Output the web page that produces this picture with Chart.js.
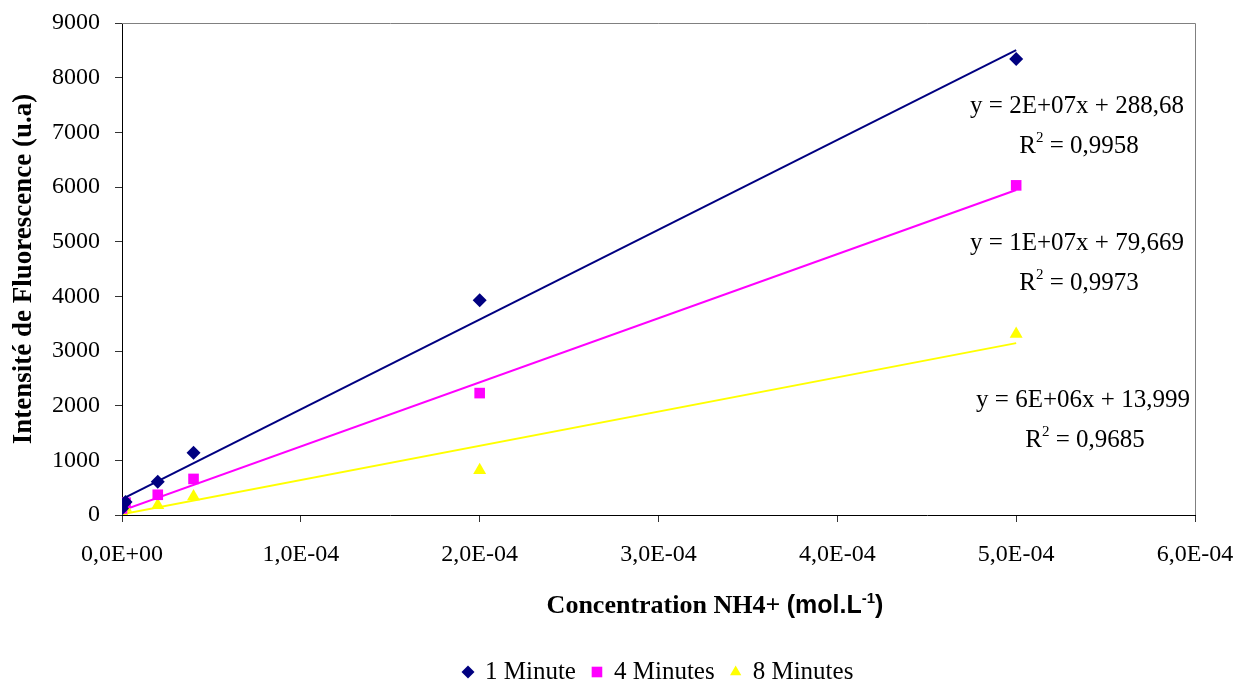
<!DOCTYPE html>
<html>
<head>
<meta charset="utf-8">
<script src="https://cdn.jsdelivr.net/npm/chart.js@4/dist/chart.umd.min.js"></script>
<style>
  html, body { margin: 0; padding: 0; background: #fff; }
  #wrap { width: 1239px; height: 684px; }
</style>
</head>
<body>
<div id="wrap"><canvas id="chart"></canvas></div>
<script>
// Data
const conc = [0, 2e-6, 2e-5, 4e-5, 2e-4, 5e-4];
const min1 = [120, 240, 610, 1140, 3930, 8340];
const min4 = [120, 225, 370, 660, 2230, 6030];
const min8 = [60, 130, 180, 340, 820, 3310];

const seriesNames = ["1 Minute", "4 Minutes", "8 Minutes"];
const seriesColors = ["#000080", "#FF00FF", "#FFFF00"];
const seriesShapes = ["rectRot", "rect", "triangle"];

// Trend lines (slope estimated from the drawn line, intercept from the label)
const slopes = [1.643e7, 1.173e7, 6.26e6];
const intercepts = [288.68, 79.669, 13.999];
const trendEnd = 5e-4;
const equations = ["y = 2E+07x + 288,68", "y = 1E+07x + 79,669", "y = 6E+06x + 13,999"];
const r2Values = ["0,9958", "0,9973", "0,9685"];

const serif = "'Liberation Serif', 'Times New Roman', serif";
const sans = "'Liberation Sans', Arial, sans-serif";

function toPoints(ys) {
  return ys.map((y, i) => ({ x: conc[i], y: y }));
}

function sciLabel(v) {
  let s = Number(v).toExponential(1);        // e.g. "1.0e-4"
  let [m, e] = s.split("e");
  let sign = e[0] === "-" ? "-" : "+";
  let digits = e.replace(/[+-]/, "").padStart(2, "0");
  return m.replace(".", ",") + "E" + sign + digits;
}

const datasets = [];
[min1, min4, min8].forEach((ys, i) => {
  datasets.push({
    label: seriesNames[i],
    data: toPoints(ys),
    showLine: false,
    pointStyle: seriesShapes[i],
    pointRadius: i === 0 ? 7 : 7.5,
    backgroundColor: seriesColors[i],
    borderColor: seriesColors[i],
    borderWidth: 0,
    order: 1
  });
});
slopes.forEach((m, i) => {
  datasets.push({
    label: "trend" + i,
    type: "line",
    data: [{ x: 0, y: intercepts[i] }, { x: trendEnd, y: m * trendEnd + intercepts[i] }],
    borderColor: seriesColors[i],
    borderWidth: 2,
    pointRadius: 0,
    fill: false,
    order: 2
  });
});

// Plot border, x title with mixed fonts, legend and the trendline labels
const extras = {
  id: "extras",
  afterDraw(chart) {
    const ctx = chart.ctx;
    const a = chart.chartArea;
    ctx.save();
    ctx.strokeStyle = "#808080";
    ctx.lineWidth = 1;
    ctx.beginPath();
    ctx.moveTo(a.left, a.top + 0.5);
    ctx.lineTo(a.right + 0.5, a.top + 0.5);
    ctx.lineTo(a.right + 0.5, a.bottom);
    ctx.stroke();

    // x axis title
    ctx.fillStyle = "#000";
    ctx.textBaseline = "alphabetic";
    ctx.textAlign = "left";
    const parts = [
      { t: "Concentration NH4+ ", f: "bold 26px " + serif, dy: 0 },
      { t: "(mol.L", f: "bold 25px " + sans, dy: 0 },
      { t: "-1", f: "bold 15px " + sans, dy: -10 },
      { t: ")", f: "bold 25px " + sans, dy: 0 }
    ];
    let total = 0;
    parts.forEach(p => { ctx.font = p.f; p.w = ctx.measureText(p.t).width; total += p.w; });
    let x = 715 - total / 2;
    const base = 613;
    parts.forEach(p => { ctx.font = p.f; ctx.fillText(p.t, x, base + p.dy); x += p.w; });

    // legend
    ctx.font = "25px " + serif;
    ctx.textBaseline = "middle";
    let lx = 468;
    const ly = 672;
    seriesNames.forEach((name, i) => {
      ctx.fillStyle = seriesColors[i];
      Chart.helpers.drawPoint(ctx, {
        pointStyle: seriesShapes[i],
        radius: i === 1 ? 7.5 : 6.5,
        rotation: 0,
        borderWidth: 0
      }, lx, ly);
      ctx.fillStyle = "#000";
      ctx.fillText(name, lx + 17, ly);
      lx += 17 + ctx.measureText(name).width + 21;
    });
    ctx.textBaseline = "alphabetic";

    // trendline labels
    const eqX = [1077, 1077, 1083];
    const eqY = [113, 250, 407];
    equations.forEach((eq, i) => {
      ctx.font = "25px " + serif;
      ctx.textAlign = "center";
      ctx.fillText(eq, eqX[i], eqY[i]);
      // R² line
      ctx.textAlign = "left";
      const r = "R", sup = "2", rest = " = " + r2Values[i];
      ctx.font = "25px " + serif;
      const wR = ctx.measureText(r).width;
      const wRest = ctx.measureText(rest).width;
      ctx.font = "15px " + serif;
      const wS = ctx.measureText(sup).width;
      let sx = eqX[i] + 2 - (wR + wS + wRest) / 2;
      const by = eqY[i] + 40;
      ctx.font = "25px " + serif;
      ctx.fillText(r, sx, by);
      ctx.font = "15px " + serif;
      ctx.fillText(sup, sx + wR, by - 11);
      ctx.font = "25px " + serif;
      ctx.fillText(rest, sx + wR + wS, by);
    });
    ctx.restore();
  }
};

new Chart(document.getElementById("chart"), {
  type: "scatter",
  data: { datasets: datasets },
  options: {
    responsive: true,
    maintainAspectRatio: false,
    animation: false,
    layout: { padding: { top: 23, right: 0, bottom: 0, left: 0 } },
    plugins: {
      legend: { display: false },
      tooltip: { enabled: false }
    },
    scales: {
      x: {
        type: "linear",
        min: 0,
        max: 6e-4,
        afterFit: s => {
          s.height = 684 - 515;
          s.paddingRight = 44;
        },
        ticks: {
          stepSize: 1e-4,
          padding: 18,
          color: "#000",
          font: { family: serif, size: 24 },
          callback: v => sciLabel(v)
        },
        grid: { drawOnChartArea: false, tickLength: 7, color: "#333" },
        border: { color: "#000", width: 1 }
      },
      y: {
        min: 0,
        max: 9000,
        afterFit: s => {
          s.width = 122;
          s.paddingTop = 0;
          s.paddingBottom = 0;
        },
        ticks: {
          stepSize: 1000,
          padding: 15,
          color: "#000",
          font: { family: serif, size: 24 },
          callback: v => String(v)
        },
        grid: { drawOnChartArea: false, tickLength: 7, color: "#333" },
        border: { color: "#000", width: 1 },
        title: {
          display: true,
          text: "Intensité de Fluorescence (u.a)",
          color: "#000",
          font: { family: serif, size: 27, weight: "bold" },
          padding: { top: 8, bottom: 0 }
        }
      }
    }
  },
  plugins: [extras]
});
</script>
</body>
</html>
